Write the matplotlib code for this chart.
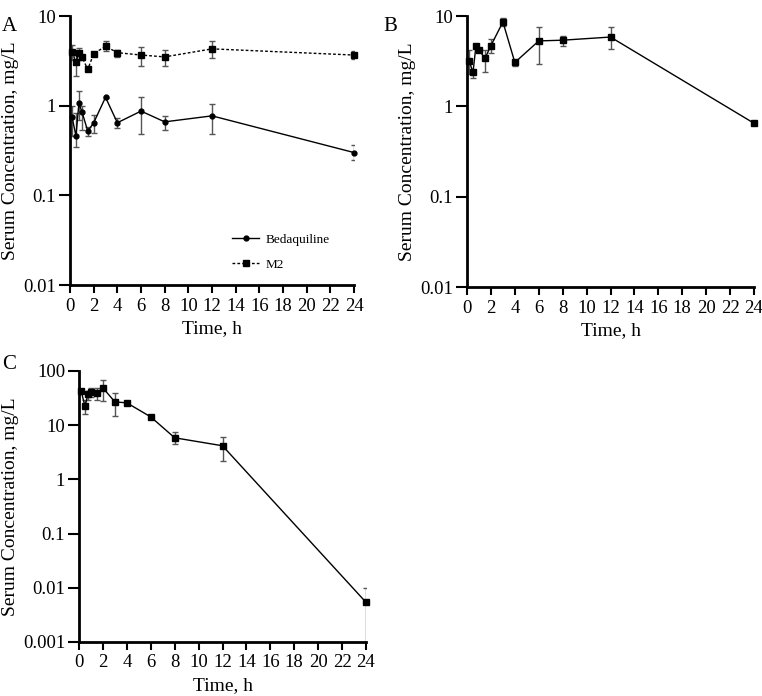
import numpy as np
import matplotlib
matplotlib.use('Agg')
import matplotlib.pyplot as plt

plt.rcParams['font.family'] = ['Liberation Serif', 'DejaVu Serif']

# panel A: bedaquiline and M2
timesA = [0.17, 0.5, 0.75, 1, 1.5, 2, 3, 4, 6, 8, 12, 24]
bdq = [0.75, 0.46, 1.06, 0.86, 0.52, 0.645, 1.24, 0.645, 0.87, 0.66, 0.77, 0.30]
bdq_hi = [1.0, 0.82, 1.47, 1.0, 0.58, 0.79, 1.26, 0.72, 1.26, 0.77, 1.05, 0.36]
bdq_lo = [0.46, 0.35, 0.69, 0.54, 0.46, 0.49, 1.22, 0.56, 0.48, 0.53, 0.48, 0.245]
m2 = [4.0, 3.04, 3.9, 3.5, 2.54, 3.8, 4.6, 3.9, 3.67, 3.5, 4.3, 3.67]
m2_hi = [4.8, 3.7, 4.4, 3.7, 2.6, 4.0, 5.2, 4.2, 4.5, 4.2, 5.3, 4.06]
m2_lo = [3.2, 2.14, 3.2, 3.3, 2.48, 3.6, 4.1, 3.5, 2.77, 2.77, 3.4, 3.3]

# panel B
timesB = [0.17, 0.5, 0.75, 1, 1.5, 2, 3, 4, 6, 8, 12, 24]
concB = [3.2, 2.38, 4.7, 4.2, 3.4, 4.7, 8.6, 3.06, 5.3, 5.4, 5.85, 0.65]
concB_hi = [4.2, 2.5, 4.9, 4.4, 4.2, 5.5, 9.4, 3.2, 7.6, 6.0, 7.5, 0.66]
concB_lo = [2.3, 2.04, 4.5, 4.0, 2.4, 3.9, 7.8, 2.8, 2.95, 4.7, 4.3, 0.64]

# panel C (last lower bound runs down to the axis)
timesC = [0.17, 0.5, 0.75, 1, 1.5, 2, 3, 4, 6, 8, 12, 24]
concC = [43, 22.4, 37.2, 41, 39.4, 48.6, 26.9, 25.8, 14.2, 5.85, 4.17, 0.0054]
concC_hi = [44, 29.6, 42.9, 49.3, 49, 67, 39, 26.5, 15.5, 7.4, 6.1, 0.0099]
concC_lo = [42, 16.4, 29.7, 33, 28.9, 28, 14.6, 25.1, 13, 4.5, 2.2, 0.001]

xticks = list(range(0, 25, 2))
ylab = 'Serum Concentration, mg/L'
errc = '#555555'


def style_ax(ax, ylim, yticks, yticklabels):
    ax.set_yscale('log')
    ax.set_xlim(0, 24)
    ax.set_ylim(*ylim)
    ax.set_xticks(xticks)
    ax.set_yticks(yticks)
    ax.set_yticklabels(yticklabels)
    ax.yaxis.set_minor_locator(matplotlib.ticker.NullLocator())
    for s in ['top', 'right']:
        ax.spines[s].set_visible(False)
    for s in ['left', 'bottom']:
        ax.spines[s].set_linewidth(2)
    ax.tick_params(axis='y', length=8, width=1.5, labelsize=13.5, pad=2)
    ax.tick_params(axis='x', length=6, width=1.5, labelsize=13.5, pad=3)
    ax.set_ylabel(ylab, fontsize=14, labelpad=3)
    ax.set_facecolor('none')


def errs(mean, lo, hi):
    mean = np.array(mean)
    return [mean - np.array(lo), np.array(hi) - mean]


def draw(ax, t, c, lo, hi, **kw):
    ax.errorbar(t, c, yerr=errs(c, lo, hi), fmt='none', ecolor=errc,
                elinewidth=1, capsize=2.5, capthick=1)
    return ax.plot(t, c, color='black', lw=1, clip_on=False, zorder=3, **kw)


fig = plt.figure(figsize=(7.62, 6.96), dpi=100)

axA = fig.add_axes([0.0919, 0.5905, 0.3727, 0.3865])
lb = draw(axA, timesA, bdq, bdq_lo, bdq_hi, marker='o', ms=3.5, label='Bedaquiline')
lm = draw(axA, timesA, m2, m2_lo, m2_hi, marker='s', ms=4, ls=(0, (2, 1.5)), label='M2')
style_ax(axA, (0.01, 10), [0.01, 0.1, 1, 10], ['0.01', '0.1', '1', '10'])
axA.set_xlabel('Time, h', fontsize=14)
axA.legend(loc='upper left', bbox_to_anchor=(0.53, 0.235), frameon=False,
           fontsize=9.5, handlelength=2.0, handletextpad=0.5, labelspacing=0.95)
fig.text(0.003, 0.975, 'A', fontsize=15, va='top')

axB = fig.add_axes([0.6129, 0.5876, 0.3766, 0.3894])
draw(axB, timesB, concB, concB_lo, concB_hi, marker='s', ms=4)
style_ax(axB, (0.01, 10), [0.01, 0.1, 1, 10], ['0.01', '0.1', '1', '10'])
axB.set_xlabel('Time, h', fontsize=14)
fig.text(0.503, 0.975, 'B', fontsize=15, va='top')

axC = fig.add_axes([0.1037, 0.0776, 0.3766, 0.3894])
draw(axC, timesC, concC, concC_lo, concC_hi, marker='s', ms=4)
style_ax(axC, (0.001, 100), [0.001, 0.01, 0.1, 1, 10, 100],
         ['0.001', '0.01', '0.1', '1', '10', '100'])
axC.set_xlabel('Time, h', fontsize=14)
fig.text(0.003, 0.49, 'C', fontsize=15, va='top')

fig.savefig('out.png', dpi=100, facecolor='white')
